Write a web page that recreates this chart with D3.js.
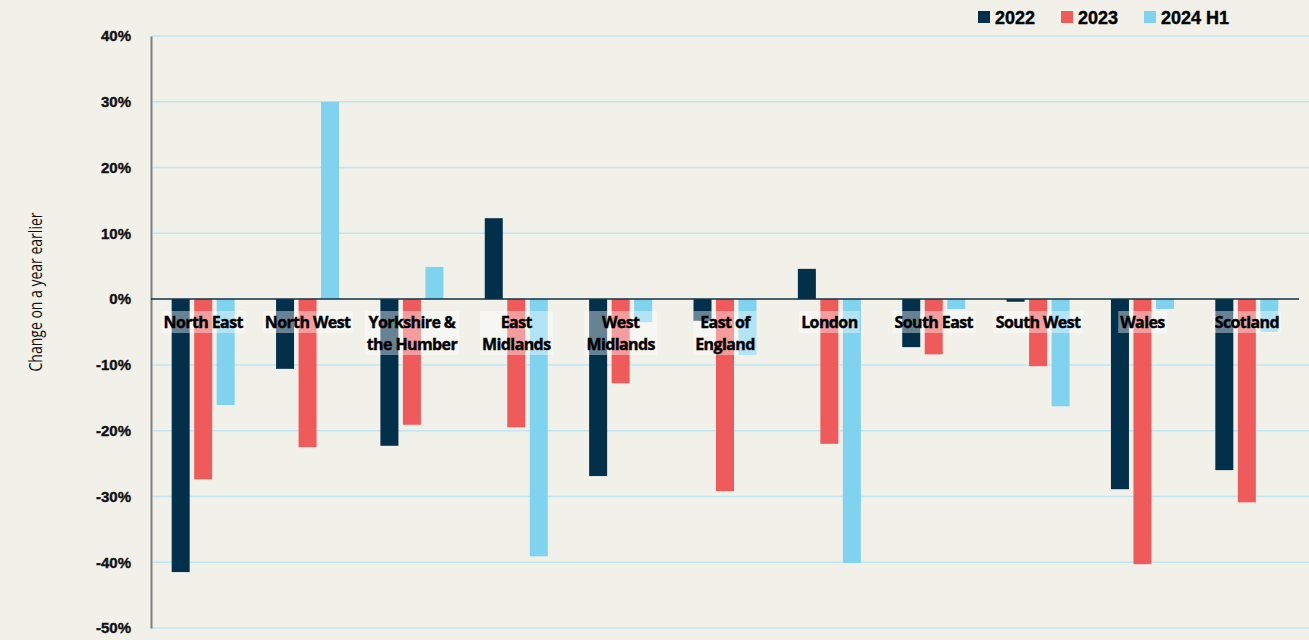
<!DOCTYPE html>
<html>
<head>
<meta charset="utf-8">
<script src="https://cdn.jsdelivr.net/npm/d3@7"></script>
<style>
  body { margin: 0; background: #f1f1ea; }
  svg { display: block; }
</style>
</head>
<body>
<div class="chart"></div>
<script>
// regions along the x axis (label lines)
const regions = [
  ['North East'], ['North West'], ['Yorkshire &', 'the Humber'], ['East', 'Midlands'],
  ['West', 'Midlands'], ['East of', 'England'], ['London'], ['South East'],
  ['South West'], ['Wales'], ['Scotland']
];
const seriesNames = ['2022', '2023', '2024 H1'];
const v2022 = [-41.5, -10.6, -22.3, 12.3, -26.9, -3.3, 4.6, -7.3, -0.4, -28.9, -26.0];
const v2023 = [-27.4, -22.5, -19.1, -19.5, -12.8, -29.2, -22.0, -8.4, -10.2, -40.3, -30.9];
const v2024 = [-16.1, 30.0, 4.9, -39.1, -3.5, -8.5, -40.1, -1.5, -16.3, -1.5, -5.0];
const yTicks = [40, 30, 20, 10, 0, -10, -20, -30, -40, -50];

const colors = ['#02304a', '#ef5b5b', '#80d3ef'];
const series = [v2022, v2023, v2024];

const width = 1309, height = 640;
const margin = {top: 36, right: 10, bottom: 12, left: 151};
const plotRight = 1299;

const svg = d3.select('.chart').append('svg')
  .attr('width', width)
  .attr('height', height)
  .style('background', '#f1f1ea');

const y = d3.scaleLinear().domain([-50, 40]).range([628, 36]);
const x0 = d3.scaleBand().domain(d3.range(regions.length)).range([margin.left, plotRight]);
const x1 = d3.scaleBand().domain(d3.range(3)).range([-31.5, 31.5]).paddingInner(0.2);

// gridlines
svg.append('g').selectAll('line')
  .data(yTicks.filter(d => d !== 0))
  .enter().append('line')
  .attr('x1', margin.left).attr('x2', width)
  .attr('y1', d => y(d)).attr('y2', d => y(d))
  .attr('stroke', '#bfe4f2').attr('stroke-width', 1.5);

// y axis
const yAxis = svg.append('g')
  .attr('transform', `translate(${margin.left},0)`)
  .call(d3.axisLeft(y).tickValues(yTicks).tickSize(0).tickPadding(20).tickFormat(d => d + '%'));
yAxis.select('.domain').attr('stroke', '#7f7f7f').attr('stroke-width', 2);
yAxis.selectAll('text')
  .style('font-family', '"Liberation Sans", Arial, sans-serif')
  .style('font-weight', 'bold')
  .style('font-size', '15px')
  .attr('fill', '#111')
  .attr('stroke', '#111').attr('stroke-width', 0.4);

svg.append('text')
  .attr('transform', `translate(42,292) rotate(-90)`)
  .attr('text-anchor', 'middle')
  .attr('textLength', 159)
  .attr('lengthAdjust', 'spacingAndGlyphs')
  .style('font-family', '"Open Sans", sans-serif')
  .style('font-size', '18px')
  .attr('fill', '#111')
  .text('Change on a year earlier');

// bars
const groups = svg.append('g').selectAll('g')
  .data(regions)
  .enter().append('g')
  .attr('transform', (d, i) => `translate(${x0(i) + x0.bandwidth() / 2},0)`);

groups.each(function(d, i) {
  d3.select(this).selectAll('rect')
    .data(series.map(s => s[i]))
    .enter().append('rect')
    .attr('x', (v, j) => x1(j))
    .attr('width', x1.bandwidth())
    .attr('y', v => y(Math.max(0, v)))
    .attr('height', v => Math.abs(y(v) - y(0)))
    .attr('fill', (v, j) => colors[j]);
});

// zero line
svg.append('line')
  .attr('x1', margin.left).attr('x2', plotRight)
  .attr('y1', y(0)).attr('y2', y(0))
  .attr('stroke', '#10303f').attr('stroke-width', 1.5);

// category labels with translucent boxes
groups.each(function(lines) {
  const g = d3.select(this);
  const t = g.append('text')
    .attr('text-anchor', 'middle')
    .style('font-family', '"Open Sans", Lato, sans-serif')
    .style('font-weight', 'bold')
    .style('font-size', '16px')
    .style('letter-spacing', '-0.6px')
    .attr('fill', '#000')
    .attr('stroke', '#000').attr('stroke-width', 0.4);
  lines.forEach((l, k) => {
    t.append('tspan').attr('x', 0).attr('y', 328 + k * 22).text(l);
  });
  const bb = t.node().getBBox();
  g.insert('rect', 'text')
    .attr('x', bb.x - 2).attr('y', 311)
    .attr('width', bb.width + 4).attr('height', lines.length * 22)
    .attr('fill', 'rgba(255,255,255,0.4)');
});

// legend
const legend = svg.append('g').selectAll('g')
  .data(seriesNames)
  .enter().append('g')
  .attr('transform', (d, i) => `translate(${978 + i * 83},11)`);
legend.append('rect').attr('width', 12).attr('height', 12).attr('fill', (d, i) => colors[i]);
legend.append('text')
  .attr('x', 17).attr('y', 13)
  .style('font-family', '"Liberation Sans", Arial, sans-serif')
  .style('font-weight', 'bold')
  .style('font-size', '18px')
  .attr('fill', '#000')
  .attr('stroke', '#000').attr('stroke-width', 0.4)
  .text(d => d);
</script>
</body>
</html>
